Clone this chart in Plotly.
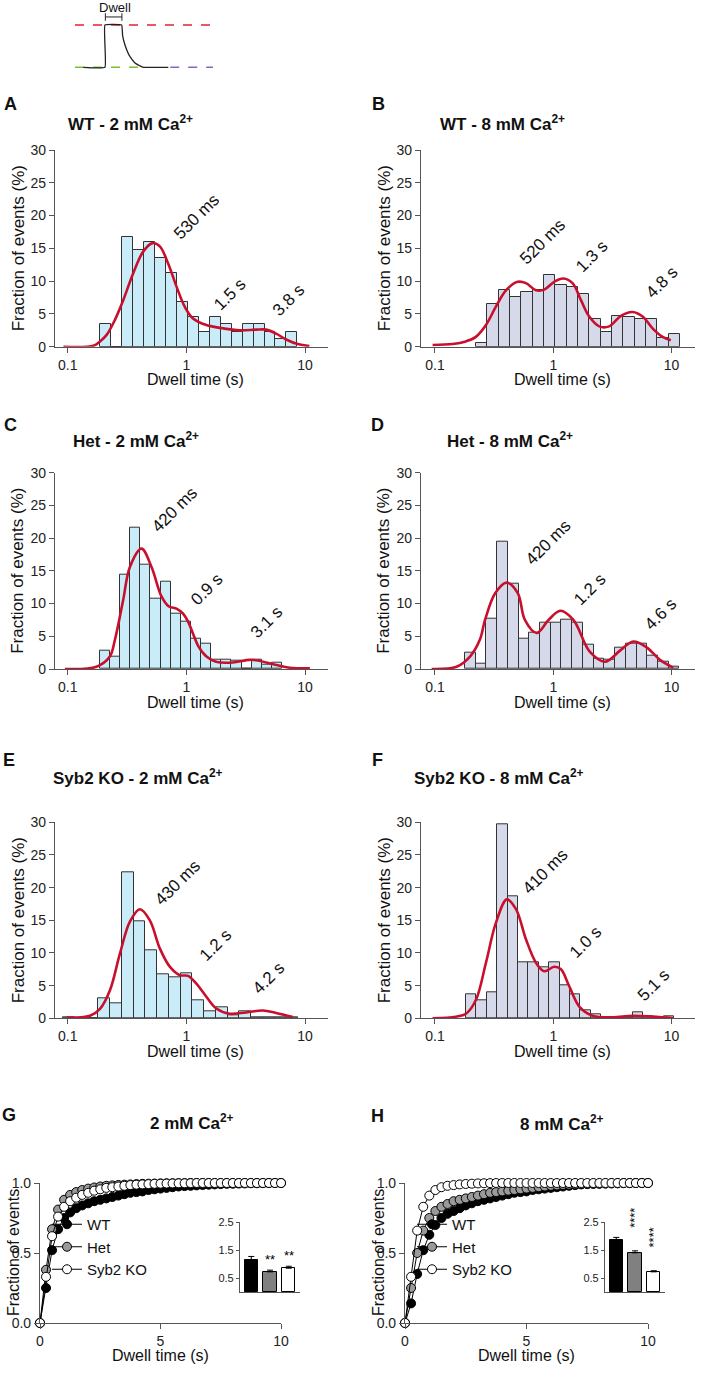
import plotly.graph_objects as go

W, H = 713, 1373
FONT = "Liberation Sans, Arial, sans-serif"
RED = "#c8102e"
BLUE_FILL = "#c9ecf8"
LAV_FILL = "#d6d9ea"
AXC = "#555555"

# ---- histograms: log10(left edge of first bin), bin width (decades), heights (%) ----
wt2_start, wt2_w = -0.728, 0.0924
wt2_hist = [3.4, 0, 16.7, 14.8, 15.9, 13.6, 11.3, 6.8, 4.5, 2.3, 4.5, 3.4, 2.3, 3.4, 3.4, 2.3, 1.1, 2.3]
wt8_start, wt8_w = -0.654, 0.0958
wt8_hist = [0.5, 6.5, 8.6, 7.6, 8.4, 8.6, 11.0, 9.4, 9.1, 8.1, 4.2, 2.3, 4.7, 4.5, 4.2, 4.2, 1.3, 2.0]
het2_start, het2_w = -0.729, 0.0853
het2_hist = [2.8, 1.9, 14.4, 21.6, 15.9, 10.7, 13.4, 8.5, 7.2, 4.7, 3.8, 1.4, 1.4, 1.2, 0, 1.4, 0.7, 1.0]
het8_start, het8_w = -0.746, 0.0906
het8_hist = [2.5, 0.85, 7.7, 19.5, 13.0, 4.6, 5.6, 7.1, 7.1, 7.6, 7.1, 3.7, 1.5, 1.4, 3.3, 3.8, 3.9, 2.0, 1.1, 0.3]
ko2_start, ko2_w = -1.038, 0.099
ko2_hist = [0.2, 0, 0, 3.0, 2.25, 22.3, 14.8, 10.4, 6.7, 6.2, 6.9, 2.8, 1.0, 1.7, 0.5, 1.0, 0.2, 0.2, 0.2, 0.2]
ko8_start, ko8_w = -0.738, 0.088
ko8_hist = [3.7, 2.7, 4.0, 29.7, 18.6, 8.55, 8.55, 7.8, 8.55, 5.1, 3.7, 1.3, 0.6, 0.2, 0.1, 0.1, 0.9, 0.3, 0.2, 0.3]

# ---- fitted curves: x in log10(s), y in % ----
wt2_fit_x = [-1.036, -0.784, -0.728, -0.672, -0.602, -0.532, -0.448, -0.364, -0.286, -0.224, -0.154, -0.084,
             -0.014, 0.056, 0.168, 0.308, 0.448, 0.588, 0.672, 0.756, 0.84, 0.938, 1.036]
wt2_fit_y = [0, 0.15, 0.8, 1.8, 4.1, 7.1, 11.2, 14.5, 15.8, 15.3, 12.7, 9.2, 6.1, 4.3, 3.3, 2.8, 2.5, 2.6, 2.6,
             2.0, 1.1, 0.4, 0.1]
wt8_fit_x = [-1.02, -0.85, -0.74, -0.654, -0.569, -0.485, -0.4, -0.301, -0.231, -0.146, -0.076, 0.008, 0.085,
             0.163, 0.234, 0.304, 0.389, 0.473, 0.572, 0.670, 0.755, 0.839, 0.924, 0.994]
wt8_fit_y = [0.25, 0.4, 0.8, 1.5, 3.3, 6.1, 8.6, 9.9, 9.7, 8.6, 8.7, 9.9, 10.4, 9.7, 7.1, 4.6, 3.1, 3.1, 4.7, 5.3,
             4.6, 2.8, 1.5, 1.0]
het2_fit_x = [-1.024, -0.757, -0.645, -0.603, -0.533, -0.476, -0.378, -0.294, -0.21, -0.15, -0.08, -0.03, 0.015,
              0.06, 0.10, 0.169, 0.25, 0.39, 0.53, 0.6, 0.758, 0.87, 1.04]
het2_fit_y = [0, 0.35, 1.9, 4.4, 10.5, 15.6, 18.4, 15.6, 11.1, 9.6, 9.2, 8.5, 7.2, 5.2, 3.5, 1.9, 1.1, 1.0, 1.4,
              1.3, 0.6, 0.2, 0.1]
het8_fit_x = [-1.028, -0.817, -0.704, -0.62, -0.577, -0.49, -0.394, -0.30, -0.24, -0.14, -0.04, 0.06, 0.17,
              0.31, 0.437, 0.564, 0.676, 0.789, 0.902, 1.014]
het8_fit_y = [0, 0.35, 1.9, 4.5, 7.5, 11.6, 13.2, 11.6, 7.5, 5.5, 7.5, 8.9, 7.5, 2.6, 1.1, 2.8, 4.2, 3.3, 1.4, 0.2]
ko2_fit_x = [-1.008, -0.812, -0.728, -0.644, -0.56, -0.476, -0.392, -0.308, -0.224, -0.14, -0.056, 0.014, 0.084,
             0.168, 0.252, 0.364, 0.504, 0.644, 0.756, 0.896]
ko2_fit_y = [0.1, 0.4, 1.45, 4.3, 9.9, 14.8, 16.7, 15.0, 10.7, 7.9, 6.6, 6.5, 5.3, 3.3, 1.5, 0.7, 0.9, 1.2, 0.8,
             0.2]
ko8_fit_x = [-1.02, -0.823, -0.738, -0.654, -0.569, -0.485, -0.392, -0.315, -0.231, -0.146, -0.076, 0.008, 0.065,
             0.135, 0.22, 0.332, 0.501, 0.67, 0.839, 1.02]
ko8_fit_y = [0, 0.25, 0.7, 2.8, 8.5, 14.6, 18.2, 16.7, 12.1, 8.5, 7.2, 7.9, 7.5, 4.9, 1.8, 0.4, 0.15, 0.4, 0.25, 0]

# ---- cumulative distributions (time in s) ----
cdf_t = [i * 0.25 for i in range(41)]
g_wt = [0, 0.25, 0.52, 0.67, 0.75, 0.79, 0.82, 0.84, 0.855, 0.87, 0.88, 0.89, 0.90, 0.91, 0.92, 0.93, 0.935,
        0.94, 0.95, 0.955, 0.96, 0.965, 0.97, 0.975, 0.978, 0.98, 0.983, 0.986, 0.988, 0.99, 0.992, 0.994,
        0.995, 0.996, 0.997, 0.998, 0.998, 0.999, 1.0, 1.0, 1.0]
g_het = [0, 0.38, 0.67, 0.81, 0.88, 0.915, 0.935, 0.95, 0.96, 0.968, 0.975, 0.98, 0.983, 0.986, 0.988, 0.99,
         0.992, 0.994, 0.995, 0.996, 0.997, 0.998, 0.998, 0.999, 0.999, 1.0, 1.0, 1.0, 1.0, 1.0, 1.0, 1.0,
         1.0, 1.0, 1.0, 1.0, 1.0, 1.0, 1.0, 1.0, 1.0]
g_ko = [0, 0.33, 0.62, 0.76, 0.83, 0.87, 0.895, 0.915, 0.93, 0.945, 0.955, 0.965, 0.97, 0.975, 0.98, 0.985,
        0.988, 0.99, 0.992, 0.994, 0.995, 0.996, 0.997, 0.998, 0.998, 0.999, 1.0, 1.0, 1.0, 1.0, 1.0, 1.0,
        1.0, 1.0, 1.0, 1.0, 1.0, 1.0, 1.0, 1.0, 1.0]
h_wt = [0, 0.14, 0.35, 0.52, 0.63, 0.70, 0.75, 0.78, 0.80, 0.82, 0.84, 0.855, 0.87, 0.88, 0.89, 0.90, 0.91,
        0.92, 0.93, 0.935, 0.94, 0.95, 0.955, 0.96, 0.965, 0.97, 0.975, 0.98, 0.985, 0.99, 0.992, 0.994,
        0.995, 0.996, 0.997, 0.998, 0.999, 0.999, 1.0, 1.0, 1.0]
h_het = [0, 0.25, 0.50, 0.66, 0.75, 0.80, 0.83, 0.85, 0.87, 0.88, 0.89, 0.90, 0.91, 0.92, 0.93, 0.935, 0.94,
         0.945, 0.95, 0.955, 0.96, 0.965, 0.97, 0.975, 0.98, 0.983, 0.986, 0.988, 0.99, 0.992, 0.994, 0.995,
         0.996, 0.997, 0.998, 0.998, 0.999, 0.999, 1.0, 1.0, 1.0]
h_ko = [0, 0.33, 0.66, 0.83, 0.91, 0.95, 0.97, 0.98, 0.985, 0.99, 0.993, 0.995, 0.997, 0.998, 0.999, 1.0,
        1.0, 1.0, 1.0, 1.0, 1.0, 1.0, 1.0, 1.0, 1.0, 1.0, 1.0, 1.0, 1.0, 1.0, 1.0, 1.0, 1.0, 1.0, 1.0, 1.0,
        1.0, 1.0, 1.0, 1.0, 1.0]

# ---- inset bar charts (mean dwell time, s) ----
genotypes = ["WT", "Het", "Syb2 KO"]
g_mean = [1.15, 0.72, 0.85]
g_err = [0.12, 0.06, 0.07]
g_sig = ["", "**", "**"]
h_mean = [1.85, 1.40, 0.72]
h_err = [0.10, 0.07, 0.04]
h_sig = ["", "****", "****"]

# ---- schematic trace ----
sk_t = [0.6, 2.17, 2.17, 3.38, 3.45, 3.6, 3.74, 3.9, 4.1, 4.35, 4.6, 4.96, 6.76]
sk_v = [0, 0, 1, 1, 0.75, 0.55, 0.42, 0.3, 0.2, 0.1, 0.05, 0.0, 0]


def px(x):
    return x / W


def py(y):
    return 1 - y / H


fig = go.Figure()
layout = {}
annotations = []


def add_axes(n, x0, x1, ytop, ybot, xr, yr, xkw=None, ykw=None):
    base = dict(showline=True, linecolor=AXC, linewidth=1.2, ticks="outside", ticklen=5, tickcolor=AXC,
                tickwidth=1.2, showgrid=False, zeroline=False, automargin=False,
                tickfont=dict(family=FONT, size=14, color="#222"))
    xa = dict(base, domain=[px(x0), px(x1)], range=xr, anchor="y%d" % n)
    ya = dict(base, domain=[py(ybot), py(ytop)], range=yr, anchor="x%d" % n)
    xa.update(xkw or {})
    ya.update(ykw or {})
    layout["xaxis%d" % n] = xa
    layout["yaxis%d" % n] = ya


def text(x, y, s, size=14, bold=False, angle=0, anchor="center"):
    if bold:
        s = "<b>" + s + "</b>"
    annotations.append(dict(x=px(x), y=py(y), xref="paper", yref="paper", text=s, showarrow=False,
                            textangle=angle, xanchor=anchor, yanchor="middle",
                            font=dict(family=FONT, size=size, color="#111")))


# schematic
add_axes(1, 75, 213, 0, 75, [0, 10], [-0.182, 1.591],
         xkw=dict(visible=False), ykw=dict(visible=False))
fig.add_trace(go.Scatter(x=[0, 10], y=[1, 1], mode="lines", line=dict(color="#e0262a", width=1.5, dash="dash"),
                         xaxis="x1", yaxis="y1", showlegend=False))
fig.add_trace(go.Scatter(x=[0, 4.7], y=[0, 0], mode="lines", line=dict(color="#7cbf2e", width=1.5, dash="dash"),
                         xaxis="x1", yaxis="y1", showlegend=False))
fig.add_trace(go.Scatter(x=[6.9, 10], y=[0, 0], mode="lines", line=dict(color="#8a63c4", width=1.5, dash="dash"),
                         xaxis="x1", yaxis="y1", showlegend=False))
fig.add_trace(go.Scatter(x=sk_t, y=sk_v, mode="lines", line=dict(color="#222", width=1.3, shape="spline",
                                                                   smoothing=0.3),
                         xaxis="x1", yaxis="y1", showlegend=False))
fig.add_trace(go.Scatter(x=[2.2, 2.2, None, 2.2, 3.4, None, 3.4, 3.4], y=[1.1, 1.28, None, 1.19, 1.19, None, 1.1, 1.28],
                         mode="lines", line=dict(color="#222", width=1), xaxis="x1", yaxis="y1", showlegend=False))
text(115, 8, "Dwell", size=13)

# histogram panels
panels = [
    # n, x0, x1, ytop, ybot, xrange, hist, start, width, fill, fitx, fity, letter, title, labels
    (2, 55, 328, 150, 346.7, [-1.107, 1.193], wt2_hist, wt2_start, wt2_w, BLUE_FILL, wt2_fit_x, wt2_fit_y,
     ("A", 10, 104), ("WT - 2 mM Ca<sup>2+</sup>", 130, 123),
     [("530 ms", 197, 217), ("1.5 s", 230, 295), ("3.8 s", 288, 300)]),
    (3, 421, 695, 150, 346.7, [-1.118, 1.198], wt8_hist, wt8_start, wt8_w, LAV_FILL, wt8_fit_x, wt8_fit_y,
     ("B", 378, 104), ("WT - 8 mM Ca<sup>2+</sup>", 502, 123),
     [("520 ms", 543, 242), ("1.3 s", 592, 257), ("4.8 s", 662, 283)]),
    (4, 55, 328, 472.7, 669, [-1.107, 1.193], het2_hist, het2_start, het2_w, BLUE_FILL, het2_fit_x, het2_fit_y,
     ("C", 10, 425), ("Het - 2 mM Ca<sup>2+</sup>", 136, 440),
     [("420 ms", 175, 510), ("0.9 s", 207, 590), ("3.1 s", 266, 622)]),
    (5, 421, 695, 472.7, 669, [-1.118, 1.198], het8_hist, het8_start, het8_w, LAV_FILL, het8_fit_x, het8_fit_y,
     ("D", 377, 425), ("Het - 8 mM Ca<sup>2+</sup>", 510, 440),
     [("420 ms", 548, 542), ("1.2 s", 590, 590), ("4.6 s", 660, 614)]),
    (6, 55, 328, 822.3, 1018.3, [-1.107, 1.193], ko2_hist, ko2_start, ko2_w, BLUE_FILL, ko2_fit_x, ko2_fit_y,
     ("E", 9, 760), ("Syb2 KO - 2 mM Ca<sup>2+</sup>", 137, 777),
     [("430 ms", 178, 883), ("1.2 s", 215, 945), ("4.2 s", 268, 978)]),
    (7, 421, 695, 822.3, 1018.3, [-1.118, 1.198], ko8_hist, ko8_start, ko8_w, LAV_FILL, ko8_fit_x, ko8_fit_y,
     ("F", 377, 760), ("Syb2 KO - 8 mM Ca<sup>2+</sup>", 499, 777),
     [("410 ms", 545, 871), ("1.0 s", 585, 942), ("5.1 s", 653, 985)]),
]

for (n, x0, x1, yt, yb, xr, hist, start, bw, fill, fx, fy, letter, title, labels) in panels:
    add_axes(n, x0, x1, yt, yb, xr, [0, 30],
             xkw=dict(tickvals=[-1, 0, 1], ticktext=["0.1", "1", "10"]),
             ykw=dict(tickvals=[0, 5, 10, 15, 20, 25, 30]))
    centers = [start + (k + 0.5) * bw for k in range(len(hist))]
    fig.add_trace(go.Bar(x=centers, y=hist, width=bw, marker=dict(color=fill, line=dict(color="#333", width=1)),
                         xaxis="x%d" % n, yaxis="y%d" % n, showlegend=False))
    fig.add_trace(go.Scatter(x=fx, y=fy, mode="lines", line=dict(color=RED, width=2.6, shape="spline"),
                             xaxis="x%d" % n, yaxis="y%d" % n, showlegend=False, cliponaxis=False))
    text(letter[1], letter[2], letter[0], size=18, bold=True)
    text(title[1], title[2], title[0], size=17, bold=True)
    for s, lx, ly in labels:
        text(lx, ly, s, size=17, angle=-45)
    text((x0 + x1) / 2 + 4, yb + 33, "Dwell time (s)", size=16)
    text(18 if x0 < 100 else 384, (yt + yb) / 2, "Fraction of events (%)", size=17, angle=-90)

# cumulative panels
cdf_panels = [
    (8, 40, 281, g_wt, g_het, g_ko, "legend", ("G", 9, 1115), ("2 mM Ca<sup>2+</sup>", 192, 1122), 13),
    (9, 405, 648, h_wt, h_het, h_ko, "legend2", ("H", 377, 1116), ("8 mM Ca<sup>2+</sup>", 562, 1123), 378),
]
styles = [("WT", "#000000"), ("Het", "#9a9a9a"), ("Syb2 KO", "#ffffff")]
for (n, x0, x1, wt, het, ko, leg, letter, title, ytx) in cdf_panels:
    add_axes(n, x0, x1, 1183, 1323, [0, 10], [0, 1],
             xkw=dict(tickvals=[0, 5, 10]),
             ykw=dict(tickvals=[0, 0.5, 1.0], tickformat=".1f"))
    for (name, col), ys in zip(styles, [wt, het, ko]):
        fig.add_trace(go.Scatter(x=cdf_t, y=ys, mode="lines+markers", name=name,
                                 line=dict(color="#000", width=1),
                                 marker=dict(size=9, color=col, line=dict(color="#000", width=1)),
                                 xaxis="x%d" % n, yaxis="y%d" % n, legend=leg, cliponaxis=False))
    text(letter[1], letter[2], letter[0], size=18, bold=True)
    text(title[1], title[2], title[0], size=17, bold=True)
    text((x0 + x1) / 2, 1355, "Dwell time (s)", size=16)
    text(ytx, 1253, "Fraction of events", size=16, angle=-90)

# inset bar charts
insets = [(10, 240, 300, g_mean, g_err, g_sig, 0), (11, 605, 665, h_mean, h_err, h_sig, -90)]
for (n, x0, x1, means, errs, sig, ang) in insets:
    add_axes(n, x0, x1, 1222, 1292, [-0.6, 2.6], [0, 2.5],
             xkw=dict(showticklabels=False, ticks=""),
             ykw=dict(tickvals=[0.5, 1.5, 2.5], ticklen=3, tickfont=dict(family=FONT, size=11, color="#222")))
    fig.add_trace(go.Bar(x=[0, 1, 2], y=means, width=0.7,
                         marker=dict(color=["#000000", "#808080", "#ffffff"], line=dict(color="#000", width=1)),
                         error_y=dict(type="data", array=errs, arrayminus=[0, 0, 0], symmetric=False,
                                      color="#000", thickness=1, width=3),
                         xaxis="x%d" % n, yaxis="y%d" % n, showlegend=False))
    for i, s in enumerate(sig):
        if s:
            annotations.append(dict(x=i, y=means[i] + errs[i], xref="x%d" % n, yref="y%d" % n, text=s,
                                    showarrow=False, textangle=ang,
                                    yanchor="bottom", xanchor="center",
                                    yshift=(1 if ang == 0 else 21),
                                    font=dict(family=FONT, size=13, color="#000")))

legend_common = dict(font=dict(family=FONT, size=15, color="#111"), bgcolor="rgba(0,0,0,0)",
                     xanchor="left", yanchor="top", tracegroupgap=0, itemwidth=30)
layout["legend"] = dict(x=px(47), y=py(1208), **legend_common)
layout["legend2"] = dict(x=px(412), y=py(1208), **legend_common)

fig.update_layout(width=W, height=H, margin=dict(l=0, r=0, t=0, b=0), paper_bgcolor="white",
                  plot_bgcolor="rgba(0,0,0,0)", bargap=0, annotations=annotations, **layout)
fig.write_html("out.html", config={"displayModeBar": False},
               post_script="document.body.style.margin='0px';")
